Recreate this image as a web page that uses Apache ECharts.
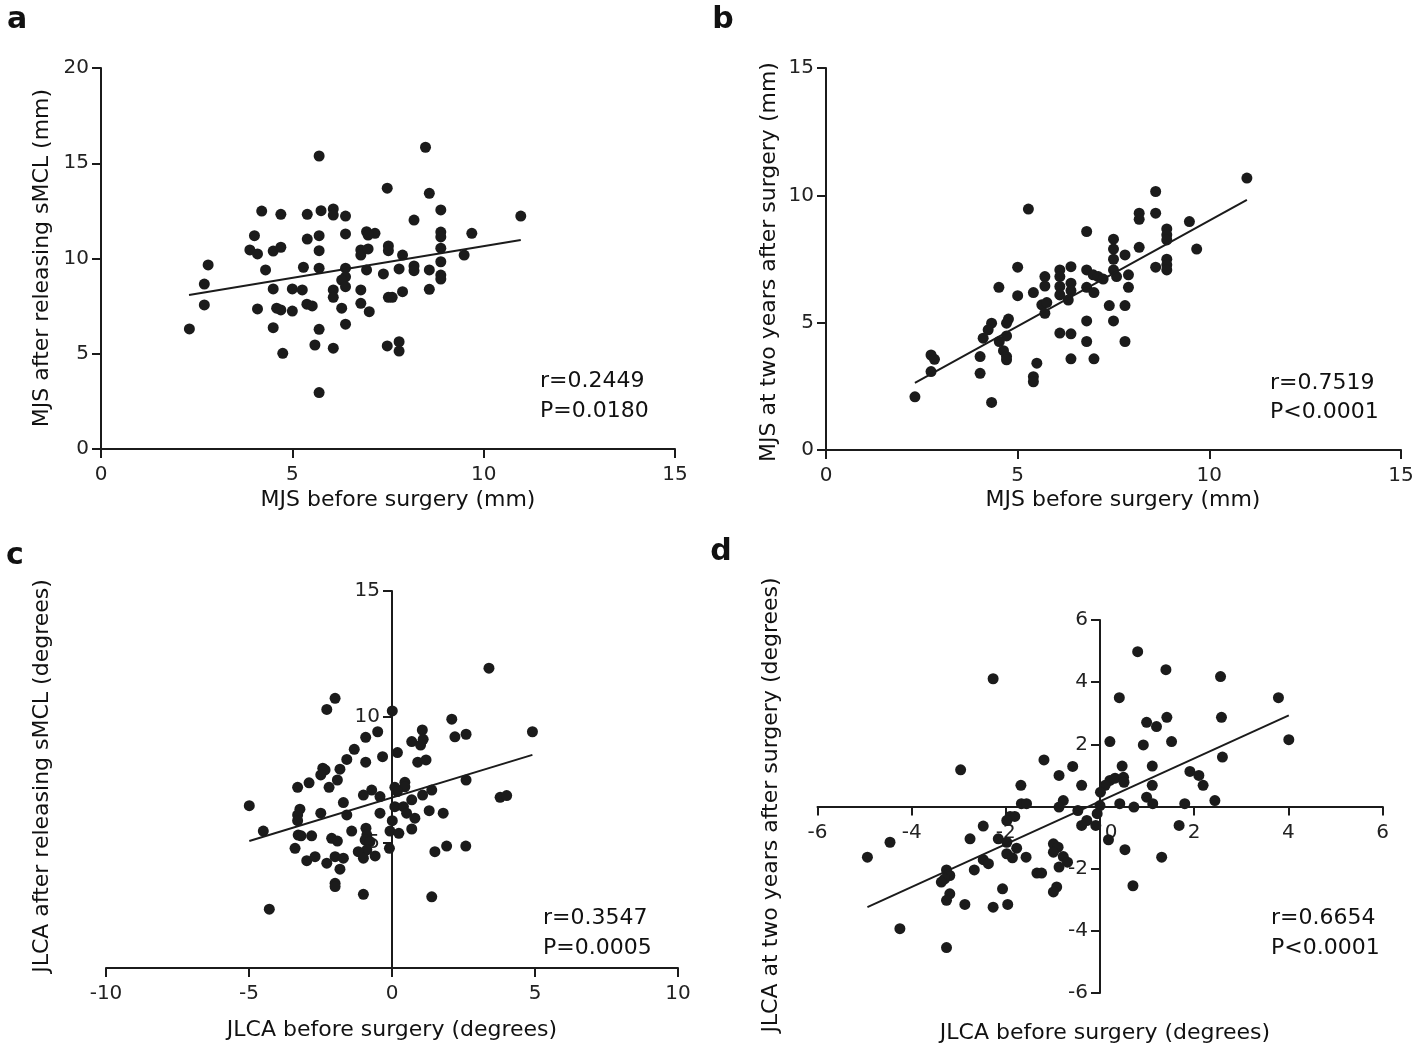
<!DOCTYPE html>
<html><head><meta charset="utf-8">
<script src="https://cdn.jsdelivr.net/npm/echarts@6/dist/echarts.min.js"></script>
<style>html,body{margin:0;padding:0;background:#fff}#c{width:1418px;height:1051px}</style>
</head><body><div id="c"></div><script>
const FONT = 'DejaVu Sans';

// ---- Panel a: MJS before surgery vs MJS after releasing sMCL ----
const pointsA = [[5.70,15.38],[4.20,12.49],[4.70,12.32],[5.39,12.32],[5.75,12.51],[6.07,12.60],[6.07,12.28],[6.39,12.23],[4.01,11.20],[5.39,11.02],[5.70,11.20],[6.39,11.29],[6.94,11.41],[3.89,10.45],[4.09,10.24],[4.50,10.39],[4.70,10.59],[5.70,10.41],[6.79,10.45],[6.79,10.18],[2.80,9.66],[4.30,9.40],[5.29,9.54],[5.70,9.49],[6.39,9.49],[6.39,9.04],[6.29,8.87],[6.39,8.52],[6.94,9.40],[2.70,8.66],[4.50,8.40],[5.00,8.40],[5.26,8.35],[6.07,8.35],[6.07,7.96],[6.79,8.35],[2.70,7.56],[4.09,7.35],[4.59,7.39],[4.70,7.30],[5.00,7.24],[5.38,7.60],[5.52,7.51],[6.29,7.39],[6.79,7.65],[7.01,7.21],[2.31,6.30],[4.50,6.37],[5.70,6.28],[6.39,6.55],[5.59,5.46],[6.07,5.29],[4.75,5.02],[5.70,2.96],[8.48,15.84],[7.48,13.69],[8.58,13.42],[8.88,12.55],[8.18,12.02],[10.97,12.23],[7.16,11.32],[6.98,11.23],[8.88,11.39],[8.88,11.13],[9.69,11.32],[6.98,10.50],[7.51,10.66],[7.51,10.41],[7.88,10.18],[8.88,10.54],[8.88,9.83],[9.49,10.18],[7.38,9.19],[7.79,9.45],[8.18,9.61],[8.18,9.36],[8.58,9.40],[8.88,9.13],[8.88,8.92],[7.51,7.96],[7.61,7.96],[7.88,8.26],[8.58,8.38],[7.48,5.41],[7.79,5.63],[7.79,5.14]];
const fitA = [[2.30,8.08],[10.97,10.97]];
const xTicksA = [0,5,10,15];
const yTicksA = [0,5,10,15,20];
const statsA = ['r=0.2449','P=0.0180'];

// ---- Panel b: MJS before surgery vs MJS at two years ----
const pointsB = [[5.28,9.46],[5.00,7.18],[4.51,6.39],[5.00,6.06],[5.41,6.18],[5.71,6.81],[5.71,6.44],[6.10,7.07],[6.10,6.81],[6.10,6.42],[6.10,6.09],[6.39,7.20],[6.39,6.55],[6.39,6.26],[6.32,5.89],[5.63,5.70],[5.76,5.79],[5.71,5.37],[4.32,4.98],[4.23,4.72],[4.10,4.39],[4.76,5.14],[4.71,4.98],[4.71,4.48],[4.52,4.26],[4.63,3.90],[4.71,3.67],[4.71,3.54],[4.02,3.67],[6.10,4.59],[6.39,4.56],[2.74,3.73],[2.83,3.56],[2.74,3.08],[4.02,3.01],[5.50,3.41],[5.41,2.88],[5.41,2.68],[6.39,3.58],[2.32,2.09],[4.32,1.87],[10.98,10.68],[8.60,10.15],[8.17,9.30],[8.17,9.06],[8.60,9.30],[9.48,8.97],[8.89,8.68],[8.89,8.45],[8.89,8.25],[6.80,8.58],[7.50,8.28],[7.50,7.89],[8.17,7.96],[9.67,7.89],[7.80,7.66],[7.50,7.49],[8.89,7.49],[8.89,7.27],[8.89,7.07],[8.60,7.18],[6.80,7.07],[6.97,6.88],[7.10,6.81],[7.23,6.71],[7.50,7.07],[7.58,6.81],[7.89,6.88],[7.89,6.39],[6.80,6.39],[6.99,6.18],[7.39,5.67],[7.80,5.67],[6.80,5.07],[7.50,5.07],[6.80,4.26],[7.80,4.26],[6.99,3.58]];
const fitB = [[2.32,2.64],[10.98,9.82]];
const xTicksB = [0,5,10,15];
const yTicksB = [0,5,10,15];
const statsB = ['r=0.7519','P<0.0001'];

// ---- Panel c: JLCA before surgery vs JLCA after releasing sMCL ----
const pointsC = [[-1.99,10.73],[-2.28,10.29],[0.01,10.23],[-0.50,9.40],[-0.92,9.18],[-1.32,8.70],[-0.33,8.41],[-1.58,8.30],[-0.92,8.19],[0.19,8.57],[-2.42,7.95],[-2.34,7.88],[-2.49,7.68],[-1.82,7.91],[-1.91,7.48],[-2.90,7.37],[-3.30,7.19],[-2.20,7.19],[-0.71,7.08],[-1.00,6.88],[-0.42,6.82],[0.10,7.19],[-4.99,6.46],[-1.70,6.58],[-3.22,6.32],[-3.30,6.09],[-3.30,5.86],[-2.49,6.16],[-1.58,6.09],[-0.42,6.16],[0.10,6.42],[0.01,5.86],[-4.50,5.45],[-3.28,5.29],[-3.18,5.26],[-2.81,5.26],[-1.41,5.45],[-0.91,5.56],[-0.88,5.29],[-0.94,5.09],[-0.77,5.03],[-2.11,5.16],[-1.91,5.05],[-0.07,5.45],[0.24,5.36],[-3.39,4.76],[-0.88,4.70],[-1.18,4.63],[-1.00,4.37],[-0.59,4.46],[-0.09,4.76],[-2.98,4.27],[-2.69,4.43],[-2.28,4.17],[-1.99,4.43],[-1.70,4.37],[-1.82,3.93],[-1.99,3.37],[-1.99,3.24],[-1.00,2.93],[-4.29,2.34],[3.39,11.93],[2.09,9.90],[1.06,9.47],[1.09,9.10],[1.00,8.87],[0.69,9.01],[2.20,9.20],[2.59,9.30],[4.91,9.40],[0.90,8.19],[1.19,8.28],[2.59,7.48],[0.45,7.39],[0.45,7.21],[0.19,7.02],[1.39,7.08],[1.07,6.88],[0.69,6.69],[3.78,6.79],[4.01,6.86],[0.40,6.42],[0.51,6.16],[1.30,6.26],[1.79,6.16],[0.80,5.96],[0.69,5.53],[1.50,4.63],[1.91,4.85],[2.58,4.85],[1.39,2.83]];
const fitC = [[-4.99,5.05],[4.91,8.48]];
const xTicksC = [-10,-5,0,5,10];
const yTicksC = [0,5,10,15];
const statsC = ['r=0.3547','P=0.0005'];

// ---- Panel d: JLCA before surgery vs JLCA at two years ----
const pointsD = [[0.80,4.98],[1.40,4.40],[2.56,4.18],[0.41,3.50],[3.79,3.50],[1.42,2.87],[2.58,2.87],[0.99,2.71],[1.20,2.57],[0.21,2.09],[0.92,1.98],[1.52,2.09],[4.01,2.15],[-1.19,1.50],[-0.58,1.29],[0.47,1.30],[1.11,1.30],[2.60,1.59],[-0.87,1.00],[1.91,1.13],[2.10,1.00],[2.19,0.68],[-0.39,0.68],[0.21,0.84],[0.32,0.91],[0.11,0.68],[0.50,0.94],[0.51,0.78],[0.01,0.46],[1.11,0.68],[0.99,0.30],[1.12,0.09],[0.42,0.09],[0.72,-0.02],[1.80,0.09],[2.44,0.19],[-0.78,0.19],[-0.87,-0.02],[-0.47,-0.13],[0.00,0.03],[-0.06,-0.23],[-0.28,-0.45],[-0.39,-0.61],[-0.09,-0.61],[1.68,-0.61],[0.18,-1.07],[0.53,-1.39],[1.31,-1.63],[-0.99,-1.20],[-0.89,-1.31],[-0.99,-1.47],[-0.78,-1.61],[-0.69,-1.79],[-0.87,-1.95],[-1.34,-2.14],[-1.24,-2.14],[-2.27,4.11],[-2.96,1.18],[-1.68,0.68],[-1.67,0.09],[-1.56,0.09],[-1.91,-0.32],[-1.81,-0.32],[-1.98,-0.45],[-2.48,-0.63],[-4.46,-1.15],[-2.76,-1.04],[-2.16,-1.04],[-1.98,-1.15],[-1.77,-1.34],[-1.98,-1.52],[-1.86,-1.65],[-1.57,-1.63],[-4.94,-1.63],[-2.48,-1.71],[-2.37,-1.84],[-2.67,-2.04],[-3.26,-2.04],[-3.19,-2.22],[-3.30,-2.33],[-3.37,-2.43],[-2.07,-2.65],[-3.19,-2.81],[-3.26,-3.02],[-2.87,-3.15],[-2.27,-3.24],[-1.96,-3.15],[-4.25,-3.93],[-3.26,-4.54],[-0.92,-2.59],[-0.99,-2.75],[0.70,-2.55]];
const fitD = [[-4.94,-3.24],[4.01,2.93]];
const xTicksD = [-6,-4,-2,0,2,4,6];
const yTicksD = [-6,-4,-2,0,2,4,6];
const statsD = ['r=0.6654','P<0.0001'];

const xTitles = ['MJS before surgery (mm)','MJS before surgery (mm)','JLCA before surgery (degrees)','JLCA before surgery (degrees)'];
const yTitles = ['MJS after releasing sMCL (mm)','MJS at two years after surgery (mm)','JLCA after releasing sMCL (degrees)','JLCA at two years after surgery (degrees)'];
const panelLetters = ['a','b','c','d'];

const INK = '#1b1b1b';
const grids = [
  {left:101, top:68, width:574, height:381},
  {left:826, top:68, width:575, height:382},
  {left:106, top:591, width:572, height:377},
  {left:817.5, top:620, width:565, height:373}
];

// fraction of an axis range at which value 0 lies
const zeroFrac = t => (0 - t[0]) / (t[t.length-1] - t[0]);

function axis(gridIndex, ticks, isX, fmt, offset) {
  return {
    type:'value', gridIndex,
    min: ticks[0], max: ticks[ticks.length-1], interval: ticks[1]-ticks[0],
    offset: offset || 0,
    splitLine:{show:false},
    axisLine:{show:true, onZero:false, lineStyle:{color:INK, width:2}},
    axisTick:{show:true, length:9, lineStyle:{color:INK, width:2}},
    axisLabel:{color:'#222', fontFamily:FONT, fontSize:20, margin: isX ? 16 : 12, formatter: fmt || (v => String(v)),
      rich:{z:{fontFamily:FONT, fontSize:20, color:'#222', padding:[0,0,0,22]}}},
  };
}
const hideZero = v => v === 0 ? '' : String(v);

// y axis of c sits at x=0; axes of d cross at (0,0)
const offYc = -grids[2].width * zeroFrac(xTicksC);
const offYd = -grids[3].width * zeroFrac(xTicksD);
const offXd = -grids[3].height * zeroFrac(yTicksD);

const xAxes = [
  axis(0, xTicksA, true), axis(1, xTicksB, true), axis(2, xTicksC, true),
  axis(3, xTicksD, true, v => v === 0 ? '{z|0}' : String(v), offXd)
];
const yAxes = [
  axis(0, yTicksA, false), axis(1, yTicksB, false),
  axis(2, yTicksC, false, hideZero, offYc), axis(3, yTicksD, false, hideZero, offYd)
];

const pts = [pointsA, pointsB, pointsC, pointsD];
const fits = [fitA, fitB, fitC, fitD];
const series = [];
pts.forEach((p, i) => {
  series.push({type:'scatter', xAxisIndex:i, yAxisIndex:i, data:p, symbolSize:11,
    itemStyle:{color:INK, opacity:1}, z:3});
  series.push({type:'line', xAxisIndex:i, yAxisIndex:i, data:fits[i], symbol:'none',
    lineStyle:{color:INK, width:2}, z:4});
});

function txt(x, y, text, size, opts) {
  opts = opts || {};
  return {type:'text', x, y, rotation: opts.rot || 0, silent:true, z:10,
    style:{text, fill:'#111', font: (opts.bold ? 'bold ' : '') + size + 'px "' + FONT + '"',
      textAlign: opts.align || 'center', textVerticalAlign:'middle', align: opts.align || 'center', verticalAlign:'middle'}};
}
const titleX = [[398,500],[1123,500],[392,1030],[1105,1033]];
const titleY = [[42,258],[769,262],[42,776],[771,805]];
const letterPos = [[17,20],[723,20],[15,556],[721,552]];
const statPos = [[540,381,411],[1270,383,412],[543,918,948],[1271,918,948]];
const stats = [statsA, statsB, statsC, statsD];
const graphics = [];
for (let i = 0; i < 4; i++) {
  graphics.push(txt(titleX[i][0], titleX[i][1], xTitles[i], 22));
  graphics.push(txt(titleY[i][0], titleY[i][1], yTitles[i], 22, {rot: Math.PI/2}));
  graphics.push(txt(letterPos[i][0], letterPos[i][1], panelLetters[i], 30, {bold:true}));
  graphics.push(txt(statPos[i][0], statPos[i][1], stats[i][0], 22, {align:'left'}));
  graphics.push(txt(statPos[i][0], statPos[i][2], stats[i][1], 22, {align:'left'}));
}

const chart = echarts.init(document.getElementById('c'), null, {renderer:'canvas'});
chart.setOption({
  backgroundColor:'#fff', animation:false,
  grid: grids, xAxis: xAxes, yAxis: yAxes, series, graphic: graphics
});
</script></body></html>
